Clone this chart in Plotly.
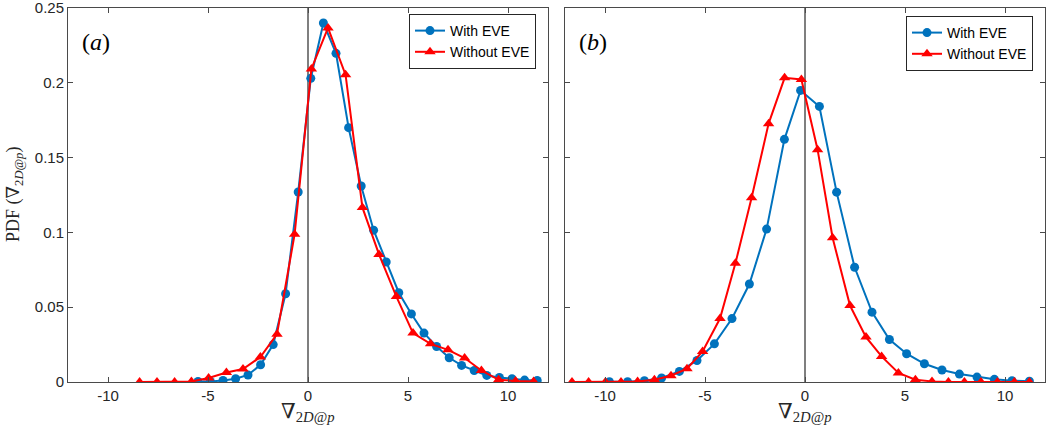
import plotly.graph_objects as go

# Panel (a): PDF of the 2D velocity-gradient measure, with and without EVE
a_with_x = [-5.50, -4.88, -4.25, -3.62, -3.00, -2.37, -1.74, -1.12, -0.49, 0.14,
            0.77, 1.40, 2.03, 2.66, 3.28, 3.91, 4.54, 5.17, 5.80, 6.43,
            7.06, 7.68, 8.31, 8.94, 9.57, 10.20, 10.83, 11.46]
a_with_y = [0.0004, 0.0004, 0.0010, 0.0022, 0.0047, 0.0115, 0.0250, 0.0590, 0.1270, 0.2030,
            0.2400, 0.2197, 0.1700, 0.1310, 0.1015, 0.0802, 0.0597, 0.0455, 0.0327, 0.0237,
            0.0162, 0.0111, 0.0077, 0.0044, 0.0030, 0.0022, 0.0013, 0.0010]

a_without_x = [-8.42, -7.55, -6.67, -5.83, -4.97, -4.08, -3.25, -2.38, -1.55, -0.67,
               0.17, 1.00, 1.88, 2.72, 3.55, 4.42, 5.25, 6.13, 7.00, 7.83,
               8.67, 9.53, 10.38, 11.28]
a_without_y = [0.0000, 0.0000, 0.0000, 0.0003, 0.0027, 0.0064, 0.0087, 0.0167, 0.0320, 0.0987,
               0.2093, 0.2367, 0.2053, 0.1167, 0.0853, 0.0571, 0.0327, 0.0255, 0.0215, 0.0160,
               0.0077, 0.0015, 0.0007, 0.0004]

# Panel (b)
b_with_x = [-9.78, -8.87, -8.03, -7.17, -6.28, -5.40, -4.53, -3.65, -2.78, -1.92,
            -1.03, -0.22, 0.72, 1.58, 2.48, 3.35, 4.22, 5.08, 5.97, 6.85,
            7.72, 8.60, 9.47, 10.35, 11.22]
b_with_y = [0.0002, 0.0002, 0.0009, 0.0027, 0.0071, 0.0144, 0.0255, 0.0424, 0.0655, 0.1022,
            0.1622, 0.1949, 0.1842, 0.1269, 0.0767, 0.0467, 0.0284, 0.0189, 0.0122, 0.0080,
            0.0053, 0.0033, 0.0018, 0.0009, 0.0005]

b_without_x = [-11.65, -10.82, -9.98, -9.20, -8.37, -7.53, -6.70, -5.90, -5.12, -4.25,
               -3.48, -2.67, -1.82, -1.02, -0.18, 0.63, 1.38, 2.25, 3.05, 3.83,
               4.67, 5.52, 6.35, 7.17, 7.97, 8.80, 9.62, 10.47, 11.22]
b_without_y = [0.0000, 0.0000, 0.0000, 0.0000, 0.0003, 0.0015, 0.0042, 0.0089, 0.0204, 0.0424,
               0.0793, 0.1231, 0.1727, 0.2033, 0.2022, 0.1553, 0.0964, 0.0511, 0.0300, 0.0171,
               0.0060, 0.0015, 0.0004, 0.0000, 0.0000, 0.0000, 0.0000, 0.0000, 0.0000]

x_ticks = [-10, -5, 0, 5, 10]
x_tick_text = ["-10", "-5", "0", "5", "10"]
y_ticks = [0, 0.05, 0.1, 0.15, 0.2, 0.25]
y_tick_text = ["0", "0.05", "0.1", "0.15", "0.2", "0.25"]
series_names = ["With EVE", "Without EVE"]
panel_labels = ["(<i>a</i>)", "(<i>b</i>)"]

BLUE = "#0072BD"
RED = "#FF0000"
AXIS = "#4a4a4a"
SANS = "Liberation Sans, Arial, sans-serif"
SERIF = "Liberation Serif, DejaVu Serif, serif"

W, H = 1049, 442
fig = go.Figure()

panels = [
    (a_with_x, a_with_y, a_without_x, a_without_y, "x", "y", "legend"),
    (b_with_x, b_with_y, b_without_x, b_without_y, "x2", "y2", "legend2"),
]
for wx, wy, nx, ny, xa, ya, lg in panels:
    fig.add_trace(go.Scatter(
        x=wx, y=wy, mode="lines+markers", name=series_names[0],
        xaxis=xa, yaxis=ya, legend=lg,
        line=dict(color=BLUE, width=2),
        marker=dict(symbol="circle", size=9, color=BLUE),
    ))
    fig.add_trace(go.Scatter(
        x=nx, y=ny, mode="lines+markers", name=series_names[1],
        xaxis=xa, yaxis=ya, legend=lg,
        line=dict(color=RED, width=2),
        marker=dict(symbol="triangle-up", size=10, color=RED),
    ))

x_dom = [[68 / W, 548 / W], [565 / W, 1045 / W]]
y_dom = [1 - 382 / H, 1 - 8 / H]

def xaxis_style(dom, anchor):
    return dict(
        domain=dom, anchor=anchor, range=[-12, 12], automargin=False,
        tickvals=x_ticks, ticktext=x_tick_text,
        ticks="inside", ticklen=5, tickcolor=AXIS, tickwidth=1,
        showline=True, linecolor=AXIS, linewidth=1, mirror="ticks",
        showgrid=False, zeroline=False, ticklabeloverflow="allow",
        tickfont=dict(family=SANS, size=15, color="#262626"),
    )

def yaxis_style(anchor, labels):
    return dict(
        domain=y_dom, anchor=anchor, range=[0, 0.25], automargin=False,
        tickvals=y_ticks, ticktext=y_tick_text, showticklabels=labels,
        ticks="inside", ticklen=5, tickcolor=AXIS, tickwidth=1,
        showline=True, linecolor=AXIS, linewidth=1, mirror="ticks",
        showgrid=False, zeroline=False, ticklabeloverflow="allow",
        tickfont=dict(family=SANS, size=15, color="#262626"),
    )

legend_style = dict(
    bgcolor="white", bordercolor="#262626", borderwidth=1,
    font=dict(family=SANS, size=14, color="black"),
    xanchor="left", yanchor="top", tracegroupgap=0,
    itemwidth=30,
)

fig.update_layout(
    width=W, height=H,
    margin=dict(l=0, r=0, t=0, b=0, autoexpand=False),
    paper_bgcolor="white", plot_bgcolor="white",
    xaxis=xaxis_style(x_dom[0], "y"),
    yaxis=yaxis_style("x", True),
    xaxis2=xaxis_style(x_dom[1], "y2"),
    yaxis2=yaxis_style("x2", False),
    legend=dict(legend_style, x=409 / W, y=1 - 14 / H),
    legend2=dict(legend_style, x=906 / W, y=1 - 16 / H),
)

# vertical reference line at zero in each panel
for xa, ya in [("x", "y"), ("x2", "y2")]:
    fig.add_shape(type="line", xref=xa, yref=ya, x0=0, x1=0, y0=0, y1=0.25,
                  line=dict(color="#555555", width=1.5), layer="below")

# panel tags
for dom, tag in zip(x_dom, panel_labels):
    fig.add_annotation(xref="paper", yref="paper", x=dom[0] + 12 / W, y=1 - 42 / H,
                       xanchor="left", yanchor="middle", showarrow=False,
                       text=tag, font=dict(family=SERIF, size=24, color="black"))

# axis titles
grad = "∇<sub>2<i>D</i>@<i>p</i></sub>"
for dom in x_dom:
    fig.add_annotation(xref="paper", yref="paper", x=(dom[0] + dom[1]) / 2, y=1 - 412 / H,
                       xanchor="center", yanchor="middle", showarrow=False,
                       text=grad, font=dict(family=SERIF, size=21, color="#262626"))
fig.add_annotation(xref="paper", yref="paper", x=14 / W, y=1 - 195 / H,
                   xanchor="center", yanchor="middle", showarrow=False, textangle=-90,
                   text="PDF (" + grad + ")", font=dict(family=SERIF, size=18, color="#262626"))

fig.write_html("out.html")
